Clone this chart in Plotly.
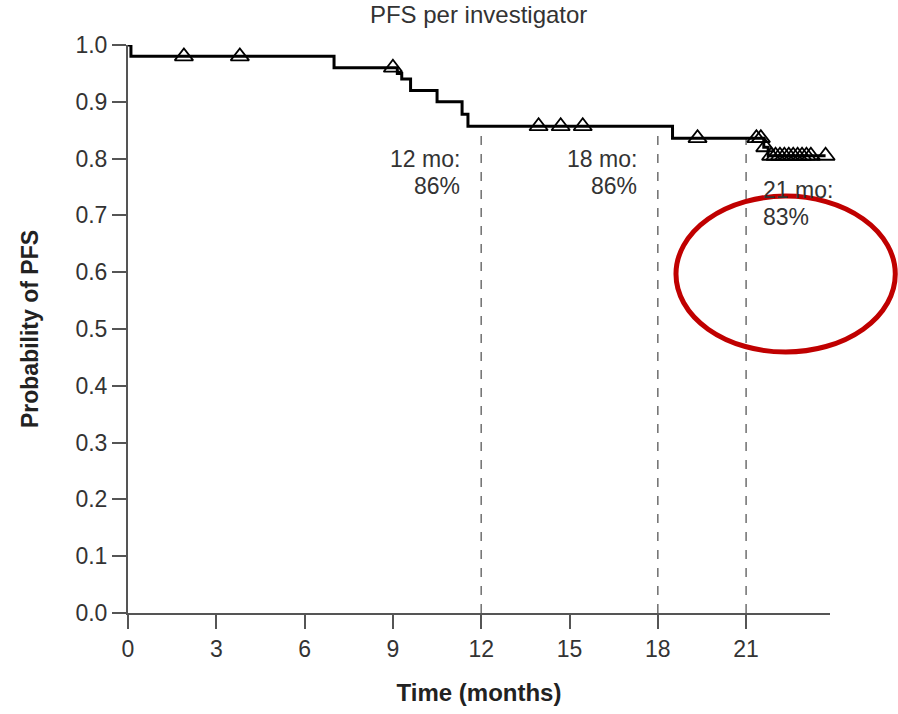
import plotly.graph_objects as go
import numpy as np

# ---- data ----
event_times = [0.0, 0.1, 7.0, 9.15, 9.3, 9.6, 10.5, 11.35, 11.55, 18.5, 21.6, 21.75]
surv_values = [1.0, 0.98, 0.96, 0.95, 0.94, 0.92, 0.90, 0.878, 0.857, 0.836, 0.82, 0.805]
censor_times = [1.9, 3.8, 9.0, 13.95, 14.7, 15.45, 19.35, 21.35, 21.5, 21.65,
                21.85, 22.0, 22.15, 22.3, 22.45, 22.6, 22.75, 22.9, 23.05, 23.2, 23.7]
landmark_times = [12, 18, 21]
landmark_labels = ["12 mo:<br>86%", "18 mo:<br>86%", "21 mo:<br>83%"]
x_ticks = [0, 3, 6, 9, 12, 15, 18, 21]
y_ticks = [0.0, 0.1, 0.2, 0.3, 0.4, 0.5, 0.6, 0.7, 0.8, 0.9, 1.0]


def surv_at(t):
    idx = np.searchsorted(event_times, t, side="right") - 1
    return surv_values[max(idx, 0)]


FONT = "Liberation Sans, Arial, sans-serif"
AXC = "#555555"
TXT = "#333333"

fig = go.Figure()

# landmark dashed lines
for t in landmark_times:
    fig.add_trace(go.Scatter(
        x=[t, t], y=[0, surv_at(t)], mode="lines",
        line=dict(color="#777777", width=1.6, dash="dash"),
        hoverinfo="skip", showlegend=False, cliponaxis=False))

# KM step curve
last_t = censor_times[-1]
fig.add_trace(go.Scatter(
    x=event_times + [last_t], y=surv_values + [surv_values[-1]],
    mode="lines", line=dict(color="black", width=3, shape="hv"),
    showlegend=False, cliponaxis=False))

# censor marks
fig.add_trace(go.Scatter(
    x=censor_times, y=[surv_at(t) for t in censor_times], mode="markers",
    marker=dict(symbol="triangle-up-open", size=16, color="black",
                line=dict(width=1.8, color="black")),
    showlegend=False, cliponaxis=False))

# landmark labels (two lines each, explicit spacing)
for t, lab in zip(landmark_times, landmark_labels):
    left = t == 21
    base = -52 if left else -33
    for i, line in enumerate(lab.split("<br>")):
        fig.add_annotation(
            x=t, y=surv_at(t), text=line, showarrow=False,
            xanchor="left" if left else "right", yanchor="middle",
            xshift=15 if left else -19, yshift=base - 27 * i,
            font=dict(family=FONT, size=23, color=TXT))

# red ellipse highlight
fig.add_shape(type="circle", xref="paper", yref="paper",
              x0=0.7806, x1=1.093, y0=0.4595, y1=0.734,
              line=dict(color="#C00000", width=5))

fig.update_layout(
    width=898, height=714,
    margin=dict(l=128, r=68, t=45, b=101),
    plot_bgcolor="white", paper_bgcolor="white",
    title=dict(text="PFS per investigator", x=0.533, xanchor="center",
               y=0.979, yanchor="middle",
               font=dict(family=FONT, size=24, color=TXT)),
    xaxis=dict(range=[0, 23.85], tickvals=x_ticks, ticks="outside",
               ticklen=14, tickwidth=2, tickcolor=AXC,
               showline=True, linecolor=AXC, linewidth=2,
               showgrid=False, zeroline=False,
               tickfont=dict(family=FONT, size=23, color=TXT),
               title=dict(text="<b>Time (months)</b>", standoff=24,
                          font=dict(family=FONT, size=24, color="#222"))),
    yaxis=dict(range=[0, 1.0], tickvals=y_ticks, tickformat=".1f",
               ticks="outside", ticklen=14, tickwidth=2, tickcolor=AXC,
               showline=True, linecolor=AXC, linewidth=2,
               showgrid=False, zeroline=False,
               tickfont=dict(family=FONT, size=23, color=TXT),
               title=dict(text="<b>Probability of PFS</b>", standoff=30,
                          font=dict(family=FONT, size=23, color="#222"))),
)

fig.write_html("out.html")
